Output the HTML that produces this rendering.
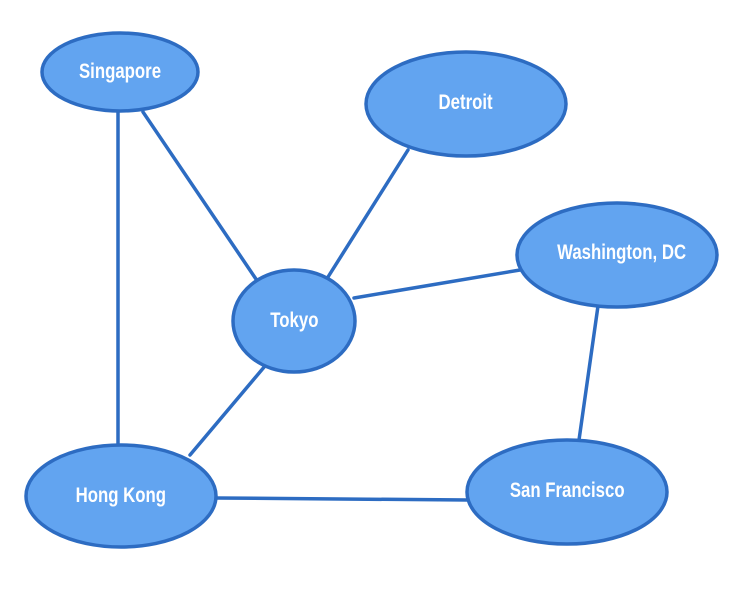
<!DOCTYPE html>
<html><head><style>
html,body{margin:0;padding:0;background:#fff;width:748px;height:596px;overflow:hidden}
svg text{font-family:"Liberation Sans",sans-serif;font-size:21px;font-weight:bold;fill:#fff;text-anchor:middle;dominant-baseline:central}
</style></head><body>
<svg width="748" height="596" viewBox="0 0 748 596">
<g stroke="#2d6cc2" stroke-width="3.5" fill="none" stroke-linecap="round">
<line x1="118" y1="110" x2="118" y2="445"/>
<line x1="143" y1="112" x2="258" y2="282"/>
<line x1="408" y1="150" x2="328" y2="277"/>
<line x1="354" y1="298" x2="520" y2="270"/>
<line x1="265" y1="366" x2="190" y2="455"/>
<line x1="216" y1="498" x2="468" y2="500"/>
<line x1="598" y1="306" x2="579" y2="440"/>
</g>
<g fill="#62a4f0" stroke="#2d6cc2" stroke-width="3.5">
<ellipse cx="120" cy="72" rx="78" ry="39"/>
<ellipse cx="466" cy="104" rx="100" ry="52"/>
<ellipse cx="617" cy="255" rx="100" ry="52"/>
<ellipse cx="294" cy="321" rx="61" ry="51"/>
<ellipse cx="121" cy="496" rx="95" ry="51"/>
<ellipse cx="567" cy="492" rx="100" ry="52"/>
</g>
<g transform="scale(0.8,1)">
<text x="150" y="72">Singapore</text>
<text x="582" y="103">Detroit</text>
<text x="777" y="253">Washington, DC</text>
<text x="368" y="321">Tokyo</text>
<text x="151" y="496">Hong Kong</text>
<text x="709" y="491">San Francisco</text>
</g>
</svg>
</body></html>
